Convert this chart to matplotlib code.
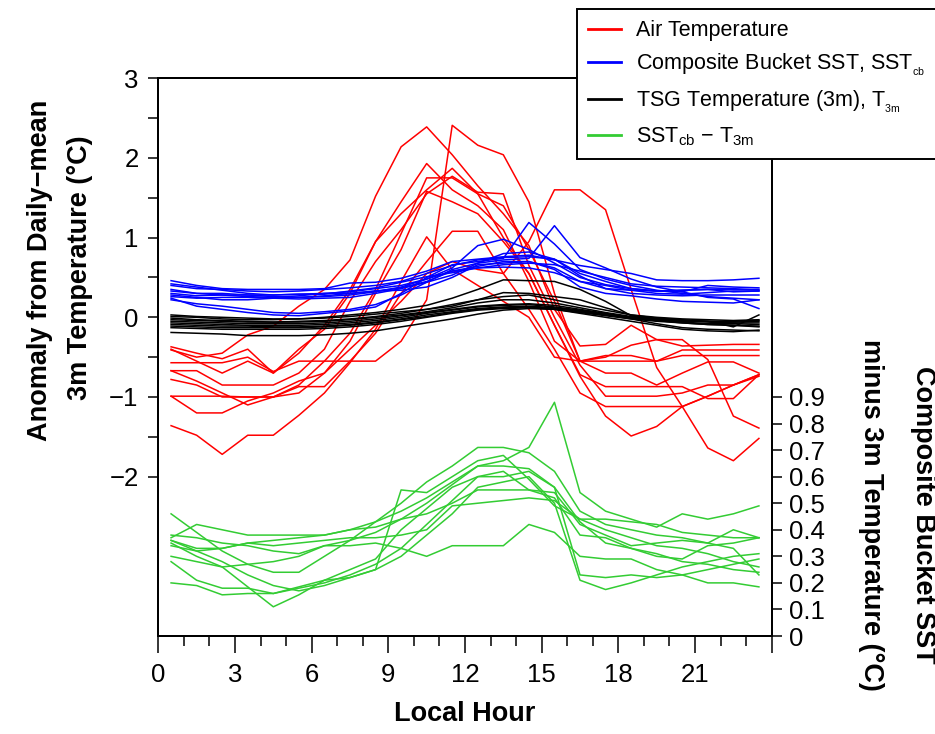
import matplotlib
matplotlib.use("Agg")
import matplotlib.pyplot as plt
from matplotlib.lines import Line2D

plt.rcParams['font.family'] = ['Liberation Sans', 'DejaVu Sans']
plt.rcParams['mathtext.fontset'] = 'custom'
plt.rcParams['mathtext.rm'] = 'Liberation Sans'
plt.rcParams['mathtext.it'] = 'Liberation Sans:italic'
plt.rcParams['mathtext.bf'] = 'Liberation Sans:bold'

hours = [0.5, 1.5, 2.5, 3.5, 4.5, 5.5, 6.5, 7.5, 8.5, 9.5, 10.5, 11.5,
         12.5, 13.5, 14.5, 15.5, 16.5, 17.5, 18.5, 19.5, 20.5, 21.5, 22.5, 23.5]

air_temp = [
    [-0.41,-0.50,-0.45,-0.22,-0.11,0.14,0.35,0.72,1.52,2.14,2.39,2.04,1.65,1.30,0.90,0.10,-0.36,-0.34,-0.10,-0.28,-0.36,-0.35,-0.34,-0.34],
    [-0.57,-0.57,-0.57,-0.50,-0.68,-0.55,-0.55,-0.55,-0.55,-0.30,0.22,2.41,2.16,2.04,1.45,0.30,-0.55,-0.55,-0.55,-0.55,-0.41,-0.41,-0.41,-0.41],
    [-0.37,-0.45,-0.52,-0.40,-0.70,-0.45,-0.10,0.35,0.95,1.45,1.93,1.60,1.40,1.10,0.45,-0.30,-0.55,-0.48,-0.48,-0.55,-0.48,-0.48,-0.48,-0.48],
    [-0.40,-0.55,-0.70,-0.55,-0.70,-0.40,-0.15,0.30,0.95,1.30,1.60,1.87,1.55,1.00,0.55,-0.10,-0.72,-0.87,-0.87,-0.87,-0.87,-1.02,-1.02,-0.72],
    [-0.67,-0.67,-0.85,-0.85,-0.85,-0.70,-0.40,0.20,0.70,1.10,1.55,1.77,1.57,1.55,0.65,0.00,-0.60,-0.99,-0.99,-0.99,-0.95,-0.85,-0.85,-0.74],
    [-0.78,-0.85,-1.00,-1.00,-1.00,-0.85,-0.55,-0.20,0.35,1.05,1.75,1.75,1.55,1.40,0.85,0.20,-0.55,-0.70,-0.70,-0.85,-0.70,-0.56,-0.56,-0.70],
    [-0.99,-1.20,-1.20,-1.05,-0.95,-0.80,-0.70,-0.30,0.30,0.85,1.58,1.45,1.30,0.95,0.55,-0.10,-0.74,-1.24,-1.49,-1.37,-1.12,-0.99,-0.85,-0.72],
    [-1.36,-1.48,-1.72,-1.48,-1.48,-1.23,-0.95,-0.57,-0.15,0.45,1.01,0.60,0.40,0.20,0.00,-0.50,-0.55,-0.50,-0.35,-0.28,-0.28,-0.53,-1.24,-1.39],
    [-0.99,-0.99,-0.99,-1.00,-1.00,-0.87,-0.87,-0.55,-0.20,0.30,0.70,1.08,1.08,0.55,0.10,-0.40,-0.95,-1.12,-1.12,-1.12,-1.12,-0.99,-0.85,-0.72],
    [-0.67,-0.80,-0.95,-1.10,-1.00,-0.95,-0.70,-0.40,-0.10,0.20,0.55,0.70,0.60,0.55,0.95,1.60,1.60,1.35,0.35,-0.63,-1.12,-1.64,-1.80,-1.52],
]

bucket_sst = [
    [0.46,0.40,0.36,0.35,0.35,0.35,0.36,0.43,0.44,0.49,0.58,0.70,0.73,0.76,0.78,0.72,0.65,0.60,0.55,0.47,0.46,0.46,0.47,0.49],
    [0.40,0.36,0.35,0.33,0.32,0.33,0.35,0.37,0.40,0.45,0.55,0.65,0.72,0.75,0.76,0.73,0.55,0.45,0.36,0.33,0.34,0.35,0.35,0.35],
    [0.35,0.30,0.28,0.26,0.25,0.27,0.30,0.30,0.33,0.37,0.45,0.58,0.64,0.70,0.70,0.62,0.45,0.40,0.34,0.30,0.29,0.31,0.33,0.33],
    [0.24,0.14,0.10,0.06,0.03,0.02,0.05,0.08,0.13,0.30,0.50,0.66,0.70,0.74,1.19,0.92,0.60,0.48,0.40,0.34,0.30,0.26,0.24,0.22],
    [0.22,0.17,0.14,0.10,0.06,0.05,0.07,0.10,0.16,0.28,0.44,0.60,0.68,0.72,0.74,1.15,0.75,0.62,0.48,0.38,0.32,0.25,0.23,0.11],
    [0.30,0.27,0.28,0.28,0.28,0.29,0.30,0.32,0.36,0.40,0.48,0.58,0.62,0.66,0.68,0.66,0.58,0.50,0.42,0.39,0.38,0.37,0.36,0.34],
    [0.26,0.24,0.25,0.25,0.24,0.23,0.24,0.25,0.30,0.36,0.44,0.53,0.68,0.80,0.82,0.73,0.52,0.36,0.30,0.28,0.27,0.28,0.28,0.28],
    [0.33,0.30,0.30,0.28,0.26,0.25,0.26,0.28,0.32,0.38,0.48,0.62,0.90,0.98,0.85,0.68,0.50,0.41,0.36,0.33,0.34,0.35,0.32,0.33],
    [0.28,0.25,0.22,0.22,0.24,0.25,0.27,0.30,0.33,0.34,0.38,0.50,0.66,0.68,0.70,0.60,0.38,0.30,0.27,0.23,0.20,0.19,0.18,0.22],
    [0.42,0.38,0.34,0.30,0.28,0.29,0.29,0.33,0.37,0.44,0.51,0.56,0.62,0.63,0.62,0.56,0.45,0.36,0.34,0.33,0.32,0.40,0.38,0.37],
]

tsg_temp = [
    [0.01,0.00,-0.02,-0.03,-0.03,-0.02,0.00,0.03,0.06,0.10,0.15,0.24,0.35,0.47,0.46,0.45,0.35,0.20,0.02,-0.02,-0.04,-0.05,-0.05,-0.04],
    [0.03,0.01,0.00,-0.01,-0.02,-0.02,-0.01,0.01,0.04,0.07,0.10,0.14,0.22,0.31,0.30,0.26,0.22,0.12,0.03,0.00,-0.02,-0.03,-0.04,-0.03],
    [-0.01,-0.03,-0.04,-0.05,-0.06,-0.06,-0.05,-0.03,0.00,0.03,0.07,0.12,0.18,0.22,0.22,0.18,0.12,0.06,0.01,-0.02,-0.04,-0.05,-0.06,-0.05],
    [-0.05,-0.06,-0.07,-0.08,-0.08,-0.08,-0.07,-0.05,-0.02,0.02,0.06,0.10,0.14,0.16,0.17,0.15,0.10,0.05,0.00,-0.03,-0.05,-0.06,-0.07,-0.07],
    [-0.09,-0.10,-0.11,-0.11,-0.12,-0.12,-0.11,-0.09,-0.06,-0.02,0.03,0.07,0.11,0.13,0.14,0.12,0.08,0.03,-0.01,-0.04,-0.06,-0.08,-0.08,-0.09],
    [-0.13,-0.14,-0.15,-0.15,-0.15,-0.15,-0.14,-0.12,-0.09,-0.05,0.00,0.05,0.09,0.11,0.12,0.10,0.06,0.02,-0.02,-0.05,-0.07,-0.09,-0.10,-0.11],
    [-0.19,-0.20,-0.21,-0.23,-0.23,-0.23,-0.22,-0.20,-0.17,-0.12,-0.07,-0.02,0.04,0.09,0.11,0.10,0.05,0.00,-0.05,-0.10,-0.15,-0.17,-0.18,-0.16],
    [-0.03,-0.04,-0.05,-0.06,-0.06,-0.05,-0.04,-0.02,0.01,0.05,0.10,0.16,0.22,0.26,0.28,0.22,0.15,0.09,0.03,-0.01,-0.03,-0.05,-0.12,0.03],
    [-0.07,-0.08,-0.09,-0.10,-0.10,-0.10,-0.09,-0.07,-0.04,0.00,0.05,0.09,0.13,0.15,0.16,0.13,0.09,0.04,-0.01,-0.04,-0.07,-0.09,-0.10,-0.12],
    [-0.11,-0.12,-0.13,-0.13,-0.13,-0.13,-0.12,-0.10,-0.07,-0.03,0.01,0.06,0.10,0.12,0.13,0.11,0.07,0.03,-0.02,-0.08,-0.13,-0.15,-0.16,-0.17],
]

sst_minus_t3m = [
    [0.36,0.32,0.33,0.35,0.36,0.37,0.38,0.40,0.43,0.47,0.52,0.58,0.64,0.66,0.71,0.88,0.54,0.47,0.44,0.41,0.46,0.44,0.46,0.49],
    [0.38,0.37,0.35,0.34,0.32,0.31,0.34,0.34,0.35,0.33,0.30,0.34,0.34,0.34,0.42,0.39,0.30,0.29,0.29,0.25,0.23,0.20,0.20,0.185],
    [0.46,0.39,0.32,0.27,0.24,0.24,0.30,0.36,0.43,0.50,0.58,0.64,0.71,0.71,0.69,0.62,0.47,0.42,0.40,0.38,0.37,0.35,0.33,0.23],
    [0.20,0.19,0.155,0.16,0.16,0.185,0.21,0.22,0.25,0.55,0.54,0.60,0.66,0.68,0.59,0.49,0.44,0.40,0.37,0.34,0.33,0.31,0.28,0.26],
    [0.35,0.30,0.26,0.185,0.11,0.155,0.21,0.25,0.29,0.40,0.48,0.56,0.60,0.60,0.62,0.56,0.43,0.35,0.33,0.30,0.29,0.34,0.35,0.37],
    [0.37,0.42,0.40,0.38,0.38,0.38,0.38,0.40,0.41,0.44,0.46,0.50,0.55,0.55,0.55,0.54,0.42,0.38,0.34,0.35,0.36,0.35,0.40,0.37],
    [0.30,0.28,0.26,0.27,0.28,0.30,0.34,0.36,0.39,0.44,0.50,0.57,0.64,0.64,0.63,0.56,0.23,0.22,0.23,0.22,0.23,0.25,0.27,0.29],
    [0.34,0.32,0.28,0.23,0.19,0.17,0.19,0.22,0.25,0.30,0.38,0.46,0.56,0.58,0.60,0.50,0.21,0.175,0.20,0.23,0.26,0.28,0.30,0.31],
    [0.28,0.21,0.18,0.18,0.16,0.18,0.20,0.23,0.27,0.33,0.42,0.51,0.60,0.62,0.55,0.52,0.38,0.37,0.33,0.31,0.28,0.27,0.25,0.24],
    [0.36,0.33,0.33,0.35,0.34,0.35,0.36,0.37,0.37,0.38,0.40,0.49,0.50,0.51,0.52,0.51,0.44,0.44,0.43,0.42,0.39,0.38,0.37,0.37],
]

x_major = [0, 3, 6, 9, 12, 15, 18, 21, 24]
x_major_labels = ['0', '3', '6', '9', '12', '15', '18', '21', '']
left_ticks = [-2, -1.5, -1, -0.5, 0, 0.5, 1, 1.5, 2, 2.5, 3]
left_labels = ['\u22122', '', '\u22121', '', '0', '', '1', '', '2', '', '3']
right_ticks = [0, 0.1, 0.2, 0.3, 0.4, 0.5, 0.6, 0.7, 0.8, 0.9]
right_labels = ['0', '0.1', '0.2', '0.3', '0.4', '0.5', '0.6', '0.7', '0.8', '0.9']

C_RED, C_BLUE, C_BLACK, C_GREEN = '#ff0000', '#0000ff', '#000000', '#33cc33'
LW = 1.1

W, H = 935, 734
fig = plt.figure(figsize=(W / 100, H / 100), dpi=100)
ax = fig.add_axes([158.3 / W, 1 - 636 / H, (771.7 - 158.3) / W, (636 - 78.3) / H])
ax2 = ax.twinx()

for s in air_temp:
    ax.plot(hours, s, color=C_RED, lw=LW)
for s in bucket_sst:
    ax.plot(hours, s, color=C_BLUE, lw=LW)
for s in tsg_temp:
    ax.plot(hours, s, color=C_BLACK, lw=LW)
for s in sst_minus_t3m:
    ax2.plot(hours, s, color=C_GREEN, lw=LW)

ax.set_xlim(0, 24)
ax.set_ylim(-4, 3)
ax2.set_ylim(0, 2.1)

ax.set_xticks(x_major)
ax.set_xticklabels(x_major_labels)
ax.set_xticks(range(0, 25), minor=True)
ax.set_yticks(left_ticks)
ax.set_yticklabels(left_labels)
ax2.set_yticks(right_ticks)
ax2.set_yticklabels(right_labels)

for a in (ax, ax2):
    for sp in a.spines.values():
        sp.set_linewidth(1.4)
ax.tick_params(axis='x', which='major', direction='out', length=12.5, width=1.1,
               labelsize=18.5, pad=7)
ax.tick_params(axis='x', which='minor', direction='out', length=7.2, width=1.1)
ax.tick_params(axis='y', direction='out', length=7.2, width=1.1, labelsize=18.5, pad=7)
ax2.tick_params(axis='y', direction='out', length=7.2, width=1.1, labelsize=18.5, pad=5)

fs_lab = 19.5
ax.set_xlabel('Local Hour', fontsize=fs_lab, fontweight='bold')
ax.xaxis.set_label_coords(0.5, (636 - 714) / (636 - 78.3), transform=ax.transAxes)
ax.xaxis.label.set_va('center')

fig.text(40 / W, 1 - 270 / H, 'Anomaly from Daily\u2212mean', rotation=90,
         ha='center', va='center', fontsize=fs_lab, fontweight='bold')
fig.text(80 / W, 1 - 268 / H, '3m Temperature (\u00b0C)', rotation=90,
         ha='center', va='center', fontsize=fs_lab, fontweight='bold')
fig.text(923 / W, 1 - 515 / H, 'Composite Bucket SST', rotation=270,
         ha='center', va='center', fontsize=fs_lab, fontweight='bold')
fig.text(871 / W, 1 - 515 / H, 'minus 3m Temperature (\u00b0C)', rotation=270,
         ha='center', va='center', fontsize=fs_lab, fontweight='bold')

handles = [Line2D([], [], color=C_RED, lw=2.0),
           Line2D([], [], color=C_BLUE, lw=2.0),
           Line2D([], [], color=C_BLACK, lw=2.0),
           Line2D([], [], color=C_GREEN, lw=2.0)]
labels = ['Air Temperature',
          r'Composite Bucket SST, SST$_{{}_{\mathrm{cb}}}$',
          r'TSG Temperature (3m), T$_{{}_{\mathrm{3m}}}$',
          r'SST$_{\mathrm{cb}}$ $-$ T$_{\mathrm{3m}}$']
leg = fig.legend(handles, labels, loc='upper left', bbox_to_anchor=(577 / W, 1 - 9.3 / H),
                 bbox_transform=fig.transFigure, borderaxespad=0, fontsize=15.5,
                 frameon=True, fancybox=False, framealpha=1, edgecolor='black',
                 handlelength=1.55, handletextpad=0.7, borderpad=0.5, labelspacing=0.5)
leg.get_frame().set_linewidth(1.4)

fig.savefig('out.png', dpi=100)
